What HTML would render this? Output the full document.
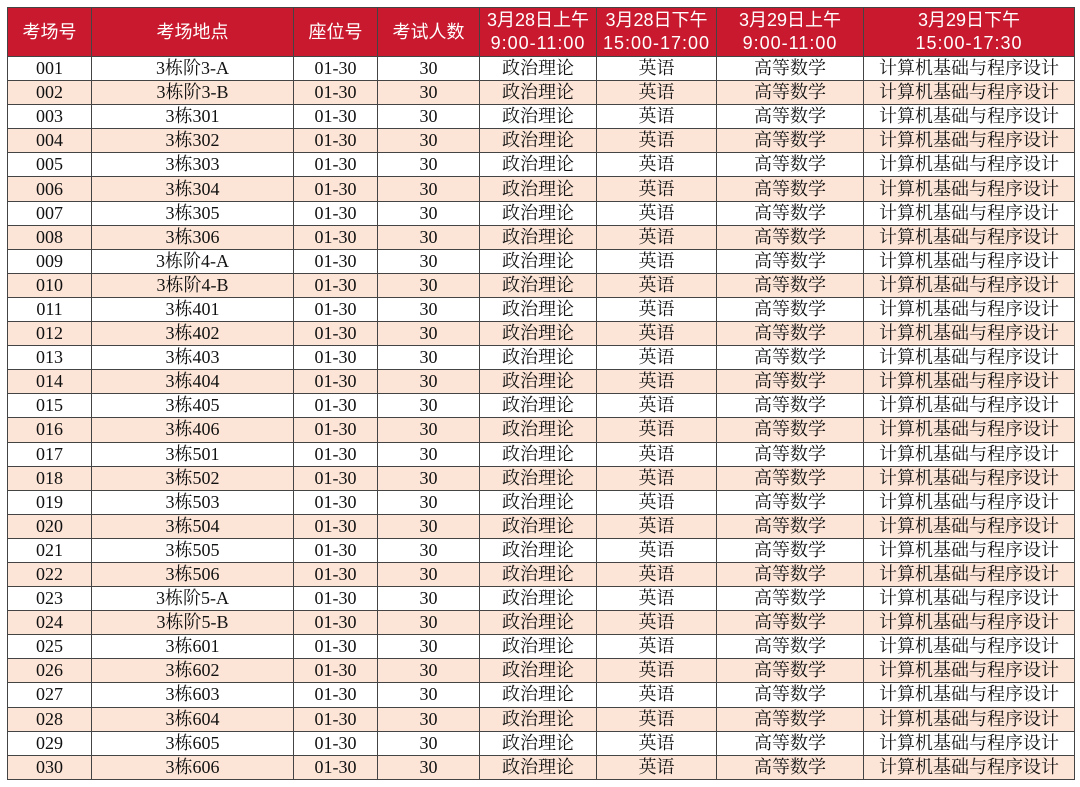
<!DOCTYPE html>
<html><head><meta charset="utf-8"><style>
html,body{margin:0;padding:0;background:#fff;width:1080px;height:787px;overflow:hidden}
table{position:absolute;left:7px;top:7px;border-collapse:collapse;table-layout:fixed;width:1067px}
td,th{border:1px solid #444;padding:0;text-align:center;white-space:nowrap;overflow:hidden}
th{background:#C8192E;color:#fff;font-family:"Liberation Sans","Noto Sans CJK SC",sans-serif;font-weight:normal;font-size:18px;height:48px;line-height:23px}
th span{letter-spacing:1px}
td{font-family:"Liberation Serif","Noto Serif CJK SC",serif;font-size:18px;height:23.1px;line-height:23px;color:#111}
tr.a td{background:#FCE4D6}
</style></head><body>
<table>
<colgroup><col style="width:84px"><col style="width:202px"><col style="width:84px"><col style="width:102px"><col style="width:117px"><col style="width:120px"><col style="width:147px"><col style="width:211px"></colgroup>
<tr><th>考场号</th><th>考场地点</th><th>座位号</th><th>考试人数</th><th>3月28日上午<br><span>9:00-11:00</span></th><th>3月28日下午<br><span>15:00-17:00</span></th><th>3月29日上午<br><span>9:00-11:00</span></th><th>3月29日下午<br><span>15:00-17:30</span></th></tr>
<tr><td>001</td><td>3栋阶3-A</td><td>01-30</td><td>30</td><td>政治理论</td><td>英语</td><td>高等数学</td><td>计算机基础与程序设计</td></tr>
<tr class="a"><td>002</td><td>3栋阶3-B</td><td>01-30</td><td>30</td><td>政治理论</td><td>英语</td><td>高等数学</td><td>计算机基础与程序设计</td></tr>
<tr><td>003</td><td>3栋301</td><td>01-30</td><td>30</td><td>政治理论</td><td>英语</td><td>高等数学</td><td>计算机基础与程序设计</td></tr>
<tr class="a"><td>004</td><td>3栋302</td><td>01-30</td><td>30</td><td>政治理论</td><td>英语</td><td>高等数学</td><td>计算机基础与程序设计</td></tr>
<tr><td>005</td><td>3栋303</td><td>01-30</td><td>30</td><td>政治理论</td><td>英语</td><td>高等数学</td><td>计算机基础与程序设计</td></tr>
<tr class="a"><td>006</td><td>3栋304</td><td>01-30</td><td>30</td><td>政治理论</td><td>英语</td><td>高等数学</td><td>计算机基础与程序设计</td></tr>
<tr><td>007</td><td>3栋305</td><td>01-30</td><td>30</td><td>政治理论</td><td>英语</td><td>高等数学</td><td>计算机基础与程序设计</td></tr>
<tr class="a"><td>008</td><td>3栋306</td><td>01-30</td><td>30</td><td>政治理论</td><td>英语</td><td>高等数学</td><td>计算机基础与程序设计</td></tr>
<tr><td>009</td><td>3栋阶4-A</td><td>01-30</td><td>30</td><td>政治理论</td><td>英语</td><td>高等数学</td><td>计算机基础与程序设计</td></tr>
<tr class="a"><td>010</td><td>3栋阶4-B</td><td>01-30</td><td>30</td><td>政治理论</td><td>英语</td><td>高等数学</td><td>计算机基础与程序设计</td></tr>
<tr><td>011</td><td>3栋401</td><td>01-30</td><td>30</td><td>政治理论</td><td>英语</td><td>高等数学</td><td>计算机基础与程序设计</td></tr>
<tr class="a"><td>012</td><td>3栋402</td><td>01-30</td><td>30</td><td>政治理论</td><td>英语</td><td>高等数学</td><td>计算机基础与程序设计</td></tr>
<tr><td>013</td><td>3栋403</td><td>01-30</td><td>30</td><td>政治理论</td><td>英语</td><td>高等数学</td><td>计算机基础与程序设计</td></tr>
<tr class="a"><td>014</td><td>3栋404</td><td>01-30</td><td>30</td><td>政治理论</td><td>英语</td><td>高等数学</td><td>计算机基础与程序设计</td></tr>
<tr><td>015</td><td>3栋405</td><td>01-30</td><td>30</td><td>政治理论</td><td>英语</td><td>高等数学</td><td>计算机基础与程序设计</td></tr>
<tr class="a"><td>016</td><td>3栋406</td><td>01-30</td><td>30</td><td>政治理论</td><td>英语</td><td>高等数学</td><td>计算机基础与程序设计</td></tr>
<tr><td>017</td><td>3栋501</td><td>01-30</td><td>30</td><td>政治理论</td><td>英语</td><td>高等数学</td><td>计算机基础与程序设计</td></tr>
<tr class="a"><td>018</td><td>3栋502</td><td>01-30</td><td>30</td><td>政治理论</td><td>英语</td><td>高等数学</td><td>计算机基础与程序设计</td></tr>
<tr><td>019</td><td>3栋503</td><td>01-30</td><td>30</td><td>政治理论</td><td>英语</td><td>高等数学</td><td>计算机基础与程序设计</td></tr>
<tr class="a"><td>020</td><td>3栋504</td><td>01-30</td><td>30</td><td>政治理论</td><td>英语</td><td>高等数学</td><td>计算机基础与程序设计</td></tr>
<tr><td>021</td><td>3栋505</td><td>01-30</td><td>30</td><td>政治理论</td><td>英语</td><td>高等数学</td><td>计算机基础与程序设计</td></tr>
<tr class="a"><td>022</td><td>3栋506</td><td>01-30</td><td>30</td><td>政治理论</td><td>英语</td><td>高等数学</td><td>计算机基础与程序设计</td></tr>
<tr><td>023</td><td>3栋阶5-A</td><td>01-30</td><td>30</td><td>政治理论</td><td>英语</td><td>高等数学</td><td>计算机基础与程序设计</td></tr>
<tr class="a"><td>024</td><td>3栋阶5-B</td><td>01-30</td><td>30</td><td>政治理论</td><td>英语</td><td>高等数学</td><td>计算机基础与程序设计</td></tr>
<tr><td>025</td><td>3栋601</td><td>01-30</td><td>30</td><td>政治理论</td><td>英语</td><td>高等数学</td><td>计算机基础与程序设计</td></tr>
<tr class="a"><td>026</td><td>3栋602</td><td>01-30</td><td>30</td><td>政治理论</td><td>英语</td><td>高等数学</td><td>计算机基础与程序设计</td></tr>
<tr><td>027</td><td>3栋603</td><td>01-30</td><td>30</td><td>政治理论</td><td>英语</td><td>高等数学</td><td>计算机基础与程序设计</td></tr>
<tr class="a"><td>028</td><td>3栋604</td><td>01-30</td><td>30</td><td>政治理论</td><td>英语</td><td>高等数学</td><td>计算机基础与程序设计</td></tr>
<tr><td>029</td><td>3栋605</td><td>01-30</td><td>30</td><td>政治理论</td><td>英语</td><td>高等数学</td><td>计算机基础与程序设计</td></tr>
<tr class="a"><td>030</td><td>3栋606</td><td>01-30</td><td>30</td><td>政治理论</td><td>英语</td><td>高等数学</td><td>计算机基础与程序设计</td></tr>
</table>
</body></html>
